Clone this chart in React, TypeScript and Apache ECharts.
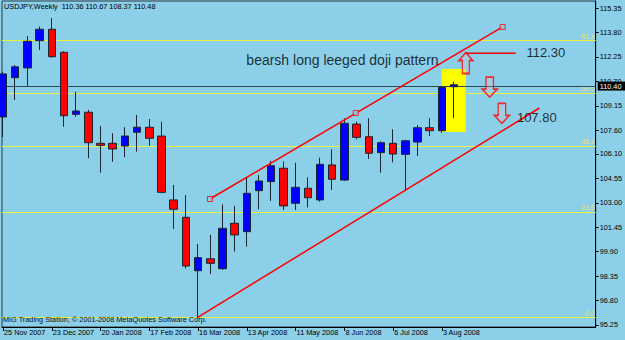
import React, { useEffect, useRef } from "react";
import * as echarts from "echarts";

// Weekly USDJPY candles, week index 0 = 25 Nov 2007
const opens = [108.44, 110.93, 111.55, 113.28, 114.0, 112.54, 108.61, 108.74, 106.77, 106.77, 106.6, 107.47, 107.79, 107.23, 103.18, 102.08, 98.69, 99.45, 98.82, 101.7, 101.17, 103.77, 104.34, 105.19, 102.97, 103.92, 103.18, 105.4, 104.44, 107.99, 107.19, 106.18, 106.77, 106.07, 106.85, 107.76, 107.57, 110.36];
const closes = [111.17, 111.62, 113.24, 114.0, 112.26, 108.52, 108.82, 106.81, 106.64, 106.41, 107.23, 107.79, 107.09, 103.66, 102.59, 98.99, 99.52, 99.16, 101.38, 100.96, 103.6, 104.38, 105.35, 102.8, 103.98, 103.32, 105.44, 104.49, 108.04, 107.15, 106.14, 106.81, 106.09, 106.93, 107.76, 107.57, 110.32, 110.48];
const lows = [107.17, 109.52, 110.42, 112.69, 112.2, 107.82, 108.46, 105.82, 104.91, 105.6, 105.89, 106.24, 106.62, 103.6, 101.34, 98.84, 95.72, 98.48, 98.74, 99.9, 100.22, 102.59, 103.12, 102.55, 102.55, 102.71, 103.07, 103.81, 104.38, 107.02, 105.78, 104.91, 105.56, 103.74, 105.97, 107.23, 107.44, 108.37];
const highs = [111.3, 111.73, 113.58, 114.17, 114.72, 112.6, 110.04, 108.89, 107.87, 107.41, 107.79, 108.57, 108.31, 108.14, 104.13, 103.49, 100.39, 100.96, 102.9, 102.8, 104.59, 104.76, 105.65, 105.61, 105.54, 104.61, 105.86, 106.39, 108.36, 108.14, 108.36, 106.9, 107.66, 107.0, 107.93, 108.36, 110.4, 110.67];

const xTickWeeks = [0, 4, 8, 12, 16, 20, 24, 28, 32, 36];
const xTickLabels = ["25 Nov 2007", "23 Dec 2007", "20 Jan 2008", "17 Feb 2008", "16 Mar 2008", "13 Apr 2008", "11 May 2008", "8 Jun 2008", "6 Jul 2008", "3 Aug 2008"];
const yTicks = [95.25, 96.8, 98.35, 99.9, 101.45, 103.0, 104.55, 106.1, 107.6, 109.15, 110.7, 112.25, 113.8, 115.35];

const fibLabels = ["0.0", "23.6", "38.2", "50.0", "61.8"];
const fibPrices = [95.72, 102.43, 106.58, 109.93, 113.28];
const lastPrice = 110.4;

const upperTrend = [[16.97, 103.24], [40.98, 114.15]];
const upperAnchors = [[16.97, 103.24], [28.93, 108.69], [40.98, 114.15]];
const lowerTrend = [[15.9, 95.7], [44.0, 109.01]];
const targetLine = [[37.87, 112.48], [42.05, 112.48]];
const highlightBox = [[35.98, 111.48], [37.95, 107.49]];
const upArrows = [[37.96, 111.86]];
const downArrows = [[39.92, 110.33], [40.92, 108.67]];
const noteTexts = ["bearsh long leeged doji pattern", "112.30", "107.80"];
const notePos = [[20.0, 112.02], [42.98, 112.48], [42.19, 108.38]];
const noteSizes = [14, 13, 13];

const BG = "#8ccfe9";
const SMALL_FONT = "'Liberation Sans', Arial, sans-serif";

export default function App() {
  const ref = useRef<HTMLDivElement>(null);
  useEffect(() => {
    if (!ref.current) return;
    const chart = echarts.init(ref.current, null, { renderer: "svg" });
    const candleData = opens.map((o, i) => [i, o, closes[i], lows[i], highs[i]]);
    const option: any = {
      animation: false,
      backgroundColor: BG,
      grid: { left: 2, right: 29, top: 1, bottom: 13, show: true, borderColor: "#2a3a44", borderWidth: 1, backgroundColor: "transparent" },
      xAxis: {
        type: "value",
        min: -0.082,
        max: 48.61,
        splitLine: { show: false },
        axisLine: { show: true, onZero: false, lineStyle: { color: "#000", width: 1 } },
        axisTick: { show: true, customValues: xTickWeeks, length: 4, lineStyle: { color: "#000" } },
        axisLabel: {
          customValues: xTickWeeks,
          formatter: (v: number) => xTickLabels[xTickWeeks.indexOf(Math.round(v))] || "",
          align: "left",
          margin: 2,
          padding: [0, 0, 0, 1],
          fontSize: 7.3,
          color: "#000",
          fontFamily: SMALL_FONT,
        },
      },
      yAxis: {
        type: "value",
        position: "right",
        min: 95.123,
        max: 115.794,
        scale: true,
        splitLine: { show: false },
        axisLine: { show: true, onZero: false, lineStyle: { color: "#000", width: 1 } },
        axisTick: { show: true, customValues: yTicks, length: 3, lineStyle: { color: "#000" } },
        axisLabel: {
          customValues: yTicks,
          formatter: (v: number) => v.toFixed(2),
          margin: 4,
          fontSize: 7.3,
          color: "#000",
          fontFamily: SMALL_FONT,
        },
      },
      series: [
        {
          type: "line",
          name: "fib",
          data: [],
          z: 1,
          markLine: {
            z: 1,
            silent: true,
            symbol: "none",
            lineStyle: { color: "#eef03a", width: 1, type: "solid" },
            label: { show: true, position: "insideEndTop", distance: 1, fontSize: 7, color: "#e4e84a", fontFamily: SMALL_FONT },
            data: fibPrices.map((p, i) => ({ yAxis: p, label: { formatter: fibLabels[i] } })),
          },
          markArea: {
            z: 2,
            silent: true,
            itemStyle: { color: "#ffff00", opacity: 1 },
            data: [[{ coord: highlightBox[0] }, { coord: highlightBox[1] }]],
          },
        },
        {
          type: "line",
          name: "price",
          data: [],
          z: 2,
          markLine: {
            z: 2.5,
            silent: true,
            symbol: "none",
            lineStyle: { color: "#2f4656", width: 1, type: "solid" },
            label: {
              show: true,
              position: "end",
              distance: 2,
              formatter: lastPrice.toFixed(2),
              color: "#fff",
              backgroundColor: "#000",
              padding: [1, 4, 1, 2],
              fontSize: 7.3,
              fontFamily: SMALL_FONT,
            },
            data: [{ yAxis: lastPrice }],
          },
        },
        {
          type: "candlestick",
          z: 3,
          barWidth: 8,
          dimensions: ["week", "open", "close", "low", "high"],
          encode: { x: "week", y: ["open", "close", "low", "high"] },
          data: candleData,
          itemStyle: { color: "#0000ff", color0: "#ff0000", borderColor: "#1b2530", borderColor0: "#1b2530", borderWidth: 1 },
        },
        {
          type: "line",
          z: 4,
          data: upperTrend,
          symbol: "none",
          lineStyle: { color: "#ff0000", width: 1.5 },
        },
        {
          type: "line",
          z: 4,
          data: lowerTrend,
          symbol: "none",
          lineStyle: { color: "#ff0000", width: 1.5 },
        },
        {
          type: "line",
          z: 4,
          data: targetLine,
          symbol: "none",
          lineStyle: { color: "#ff0000", width: 1.5 },
        },
        {
          type: "scatter",
          z: 5,
          data: upperAnchors,
          symbol: "rect",
          symbolSize: 5,
          itemStyle: { color: BG, borderColor: "#ff0000", borderWidth: 1 },
        },
        {
          type: "scatter",
          z: 5,
          data: upArrows,
          symbol: "path://M7,0 L14,8 L10.5,8 L10.5,21 L3.5,21 L3.5,8 L0,8 Z",
          symbolSize: [14, 21],
          itemStyle: { color: "rgba(255,190,200,0.25)", borderColor: "#ff0000", borderWidth: 1.5 },
        },
        {
          type: "scatter",
          z: 5,
          data: downArrows,
          symbol: "path://M3.5,0 L10.5,0 L10.5,12 L14,12 L7,20 L0,12 L3.5,12 Z",
          symbolSize: [15, 20],
          itemStyle: { color: "rgba(255,190,200,0.25)", borderColor: "#ff0000", borderWidth: 1.5 },
        },
        {
          type: "scatter",
          z: 6,
          symbolSize: 1,
          itemStyle: { color: "transparent" },
          data: notePos.map((p, i) => ({
            value: p,
            label: {
              show: true,
              formatter: noteTexts[i],
              position: [0, 0],
              align: "left",
              verticalAlign: "middle",
              fontSize: noteSizes[i],
              color: "#000",
              fontFamily: "'Liberation Sans', Arial, sans-serif",
            },
          })),
        },
      ],
      graphic: [
        {
          type: "text",
          left: 4,
          top: 3,
          z: 10,
          style: { text: "USDJPY,Weekly  110.36 110.67 108.37 110.48", fontSize: 7.3, fill: "#000", fontFamily: SMALL_FONT },
        },
        {
          type: "text",
          left: 3,
          top: 316,
          z: 10,
          style: { text: "MIG Trading Station, © 2001-2008 MetaQuotes Software Corp.", fontSize: 7.3, fill: "#111", fontFamily: SMALL_FONT },
        },
      ],
    };
    chart.setOption(option);
    return () => chart.dispose();
  }, []);
  return <div ref={ref} style={{ position: "fixed", left: 0, top: 0, width: 625, height: 340 }} />;
}
